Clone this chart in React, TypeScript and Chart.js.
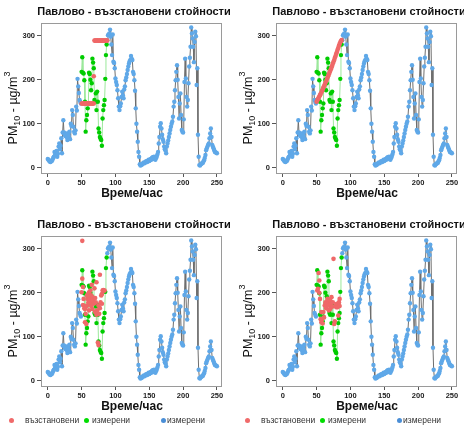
import React, { useEffect, useRef } from 'react';
import { Chart, registerables } from 'chart.js';

Chart.register(...registerables);

const TITLE = 'Павлово - възстановени стойности';
const X_LABEL = 'Време/час';
const X_TICKS = [0, 50, 100, 150, 200, 250];
const Y_TICKS = [0, 100, 200, 300];
const LEGEND_LABELS = ['възстановени', 'измерени', 'измерени'];

// measured hourly PM10 (blue), gap between hours 50 and 87
const blueValues: (number | null)[] = [
  20, 18, 16, 14, 13, 16, 15, 18, 22, 25,
  36, 30, 36, 38, 25, 32, 48, 55, 42, 50,
  67, 33, 80, 108, 80, 75, 72, 78, 70, 63,
  78, 72, 82, 65, 100, 95, 131, 120, 93, 82,
  78, 85, 139, 130, 202, 185, 170, 154, 150, 146,
  null, null, null, null, null, null, null, null, null, null,
  null, null, null, null, null, null, null, null, null, null,
  null, null, null, null, null, null, null, null, null, null,
  null, null, null, null, null, null, null, null,
  290, 301, 303, 305, 314, 298, 280, 256, 303, 241, 238, 226,
  203, 195, 188, 176, 158, 139, 131, 140, 146, 161,
  173, 165, 158, 178, 185, 199, 205, 213, 222, 230,
  237, 242, 245, 254, 248, 245, 218, 213, 199, 175,
  135, 100, 82, 59, 36, 25, 8, 5, 6, 7,
  9, 10, 12, 10, 12, 14, 15, 13, 16, 18,
  15, 17, 20, 18, 22, 24, 20, 25, 22, 18,
  22, 25, 30, 36, 55, 70, 93, 101, 89, 75,
  65, 59, 48, 42, 39, 33, 48, 55, 62, 70,
  78, 86, 93, 100, 105, 116, 139, 150, 176, 199,
  218, 233, 200, 161, 112, 146, 169, 120, 86, 82,
  80, 110, 195, 248, 203, 161, 139, 154, 192, 230,
  250, 275, 319, 305, 294, 275, 240, 286, 309, 299,
  188, 226, 75, 25, 6, 5, 8, 9, 10, 11,
  14, 17, 22, 29, 40, 44, 48, 52, 55, 67,
  78, 89, 70, 52, 48, 44, 40, 36, 35, 34, 33,
];

// measured values inside the gap (green), hours 50..87
const GREEN_START = 50;
const greenValues = [
  218, 251, 216, 214, 199, 150, 82, 108, 120, 135,
  146, 216, 213, 200, 176, 192, 248, 239, 226, 154,
  150, 169, 131, 173, 150, 89, 80, 70, 66, 63,
  50, 112, 131, 142, 154, 202, 256, 280,
];

// reconstructed values (red), panel A
const redA_x = [
  50, 51, 52, 53, 54, 55, 56, 57, 58, 59, 60, 61, 62, 63, 64, 65, 66, 67, 68,
  68,
  69, 70, 71, 72, 73, 74, 75, 76, 77, 78, 79, 80, 81, 82, 83, 84, 85, 86, 87, 88,
];
const redA_y = [
  146, 146, 146, 146, 146, 146, 146, 146, 146, 146, 146, 146, 146, 146, 146, 146, 146, 146, 146,
  208,
  289, 289, 289, 289, 289, 289, 289, 289, 289, 289, 289, 289, 289, 289, 289, 289, 289, 289, 289, 289,
];

// panel B
const redB_x = [
  50, 51, 52, 53, 54, 55, 56, 57, 58, 59, 60, 61, 62, 63, 64, 65, 66, 67, 68, 69,
  70, 71, 72, 73, 74, 75, 76, 77, 78, 79, 80, 81, 82, 83, 84, 85, 86, 87,
];
const redB_y = [
  150, 153, 156, 159, 162, 165, 168, 171, 175, 178, 182, 185, 189, 193, 196, 200, 204, 208, 212, 216,
  220, 224, 228, 232, 237, 241, 245, 250, 254, 259, 263, 268, 272, 277, 281, 285, 288, 290,
];

// panel C
const redC_x = [
  50, 51, 51, 52, 52, 53, 54, 55, 55, 56, 56, 57, 58, 58, 59, 60, 60, 61, 61, 62,
  63, 63, 64, 64, 65, 66, 66, 67, 68, 69, 70, 70, 71, 72, 72, 73, 74, 75, 75, 76,
  77, 77, 78, 79, 80, 80, 81, 82, 83, 84,
];
const redC_y = [
  201, 318, 232, 213, 172, 186, 165, 163, 133, 167, 152, 129, 194, 171, 186, 197, 178, 201, 160, 186,
  178, 205, 194, 170, 218, 163, 190, 182, 175, 210, 156, 188, 178, 224, 150, 160, 87, 81, 171, 152,
  241, 165, 178, 194, 197, 175, 205, 206, 205, 205,
];

// panel D
const redD_x = [
  51, 52, 53, 54, 54, 55, 56, 57, 57, 58, 59, 60, 61, 62, 63, 64, 65, 66, 67, 68,
  68, 69, 70, 70, 71, 72, 73, 74, 75, 76, 77, 78, 79, 80, 81, 82, 83, 84, 84,
];
const redD_y = [
  205, 209, 245, 228, 200, 186, 140, 133, 156, 140, 130, 156, 144, 171, 178, 165, 175, 186, 182, 171,
  160, 178, 163, 183, 175, 190, 168, 178, 277, 129, 135, 171, 167, 175, 167, 148, 178, 186, 170,
];

const FONT = '"Liberation Sans", Arial, Helvetica, sans-serif';
const RED = '#ef6868';
const GREEN = '#00cc00';
const GREEN_LINE = '#9be89b';
const BLUE = '#5fa8e8';
const GREY_LINE = '#6e6e6e';

const PANEL_W = 232;
const PANEL_H = 213;

const decorPlugin = {
  id: 'decor',
  afterDraw(chart: any) {
    const { ctx, chartArea } = chart;
    ctx.save();
    // box
    ctx.strokeStyle = '#9a9a9a';
    ctx.lineWidth = 1;
    ctx.strokeRect(
      Math.round(chartArea.left) + 0.5,
      Math.round(chartArea.top) + 0.5,
      Math.round(chartArea.right - chartArea.left),
      Math.round(chartArea.bottom - chartArea.top)
    );
    // title
    ctx.fillStyle = '#111';
    ctx.textAlign = 'center';
    ctx.textBaseline = 'middle';
    ctx.font = `bold 11px ${FONT}`;
    ctx.fillText(TITLE, 134, 12);
    // x label
    ctx.font = `bold 12px ${FONT}`;
    ctx.fillText(X_LABEL, 132, 194);
    // y label
    ctx.translate(14, 108);
    ctx.rotate(-Math.PI / 2);
    const big = `12.5px ${FONT}`;
    const small = `9px ${FONT}`;
    const parts = [
      { t: 'PM', f: big, dy: 0 },
      { t: '10', f: small, dy: 3.5 },
      { t: ' - µg/m', f: big, dy: 0 },
      { t: '3', f: small, dy: -6 },
    ];
    let total = 0;
    const widths = parts.map((p) => {
      ctx.font = p.f;
      const w = ctx.measureText(p.t).width;
      total += w;
      return w;
    });
    let x = -total / 2;
    ctx.textAlign = 'left';
    parts.forEach((p, i) => {
      ctx.font = p.f;
      ctx.fillText(p.t, x, p.dy);
      x += widths[i];
    });
    ctx.restore();
  },
};

function Panel({ rx, ry, left, top }: { rx: number[]; ry: number[]; left: number; top: number }) {
  const ref = useRef<HTMLCanvasElement>(null);
  useEffect(() => {
    const bluePts = blueValues.map((v, i) => ({ x: i, y: v }));
    const greenPts = greenValues.map((v, i) => ({ x: GREEN_START + i, y: v }));
    const redPts = rx.map((x, i) => ({ x, y: ry[i] }));
    const tickFont = { family: FONT, size: 7.5, weight: 'bold' as const };
    const chart = new Chart(ref.current as HTMLCanvasElement, {
      type: 'scatter',
      data: {
        datasets: [
          {
            data: redPts,
            showLine: false,
            pointBackgroundColor: RED,
            backgroundColor: RED,
            pointBorderWidth: 0,
            pointRadius: 2.3,
            order: 0,
          } as any,
          {
            data: greenPts,
            showLine: true,
            borderColor: GREEN_LINE,
            borderWidth: 1,
            pointBackgroundColor: GREEN,
            backgroundColor: GREEN,
            pointBorderWidth: 0,
            pointRadius: 2.2,
            order: 1,
          },
          {
            data: bluePts,
            showLine: true,
            spanGaps: false,
            borderColor: GREY_LINE,
            borderWidth: 1,
            pointBackgroundColor: BLUE,
            backgroundColor: BLUE,
            pointBorderWidth: 0,
            pointRadius: 2.2,
            order: 2,
          },
        ],
      },
      options: {
        responsive: false,
        animation: false,
        events: [],
        layout: { padding: { left: 0, top: 23, right: 11, bottom: 20 } },
        plugins: {
          legend: { display: false },
          tooltip: { enabled: false },
          title: { display: false },
        },
        scales: {
          x: {
            type: 'linear',
            min: -10,
            max: 256,
            afterBuildTicks: (s: any) => {
              s.ticks = X_TICKS.map((v) => ({ value: v }));
            },
            afterFit: (s: any) => {
              s.height = 20;
            },
            grid: { display: true, drawOnChartArea: false, drawTicks: true, tickLength: 4, color: '#555' },
            border: { display: false },
            ticks: { font: tickFont, color: '#222', padding: 1, maxRotation: 0, autoSkip: false },
          },
          y: {
            type: 'linear',
            min: -12,
            max: 329,
            afterBuildTicks: (s: any) => {
              s.ticks = Y_TICKS.map((v) => ({ value: v }));
            },
            afterFit: (s: any) => {
              s.width = 41;
            },
            grid: { display: true, drawOnChartArea: false, drawTicks: true, tickLength: 4, color: '#555' },
            border: { display: false },
            ticks: { font: tickFont, color: '#222', padding: 2, autoSkip: false },
          },
        },
      } as any,
      plugins: [decorPlugin],
    });
    return () => chart.destroy();
  }, []);
  return (
    <canvas
      ref={ref}
      width={PANEL_W}
      height={PANEL_H}
      style={{ position: 'absolute', left, top, width: PANEL_W, height: PANEL_H }}
    />
  );
}

function Legend({ left }: { left: number }) {
  const colors = ['#f06a6a', '#00dd00', '#4a8ed6'];
  const dotX = [11, 86, 163];
  const textX = [25, 92, 167];
  return (
    <>
      {LEGEND_LABELS.map((label, i) => (
        <React.Fragment key={i}>
          <div
            style={{
              position: 'absolute',
              left: left + dotX[i] - 2.5,
              top: 418,
              width: 5,
              height: 5,
              borderRadius: '50%',
              background: colors[i],
            }}
          />
          <div
            style={{
              position: 'absolute',
              left: left + textX[i],
              top: 414,
              fontFamily: FONT,
              fontSize: 8.5,
              lineHeight: '12px',
              color: '#333',
              whiteSpace: 'nowrap',
            }}
          >
            {label}
          </div>
        </React.Fragment>
      ))}
    </>
  );
}

export default function App() {
  return (
    <div
      style={{
        position: 'fixed',
        left: 0,
        top: 0,
        width: 464,
        height: 426,
        overflow: 'hidden',
        background: '#fff',
      }}
    >
      <Panel rx={redA_x} ry={redA_y} left={0} top={0} />
      <Panel rx={redB_x} ry={redB_y} left={235} top={0} />
      <Panel rx={redC_x} ry={redC_y} left={0} top={213} />
      <Panel rx={redD_x} ry={redD_y} left={235} top={213} />
      <Legend left={0} />
      <Legend left={236} />
    </div>
  );
}
